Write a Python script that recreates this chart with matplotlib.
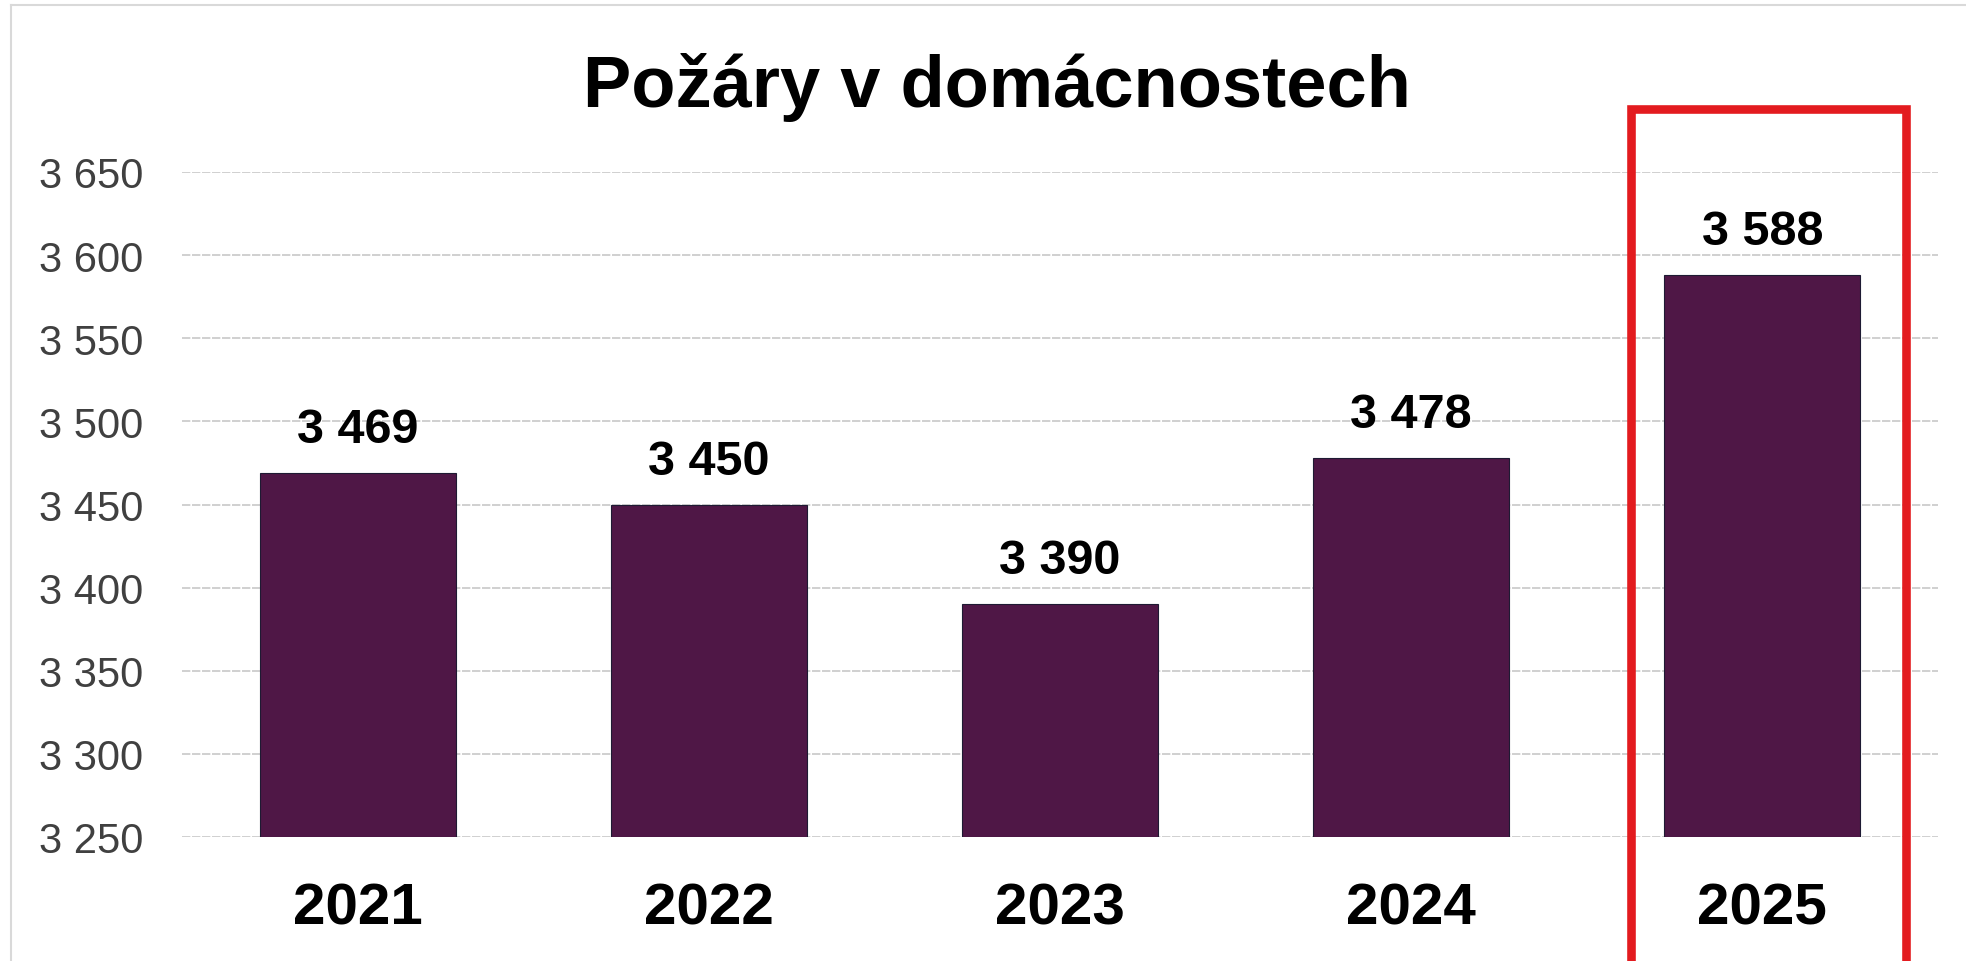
import matplotlib.pyplot as plt
from matplotlib.patches import Rectangle
from matplotlib.lines import Line2D

plt.rcParams['font.family'] = ['Liberation Sans', 'DejaVu Sans']

# data
years = ['2021', '2022', '2023', '2024', '2025']
fires = [3469, 3450, 3390, 3478, 3588]
y_ticks = [3250, 3300, 3350, 3400, 3450, 3500, 3550, 3600, 3650]


def fmt(v):
    # Czech style thousands separator (space)
    return f"{v:,}".replace(",", " ")


W, H = 1966, 962
fig = plt.figure(figsize=(W / 100, H / 100), dpi=100)
ax = fig.add_axes([182 / W, 1 - 838 / H, (1938 - 182) / W, (838 - 173) / H])

x = range(len(years))
bars = ax.bar(x, [v - 3250 for v in fires], bottom=3250, width=0.558,
              color='#4f1746', edgecolor='#1e1a33', linewidth=0.8, zorder=3)

for b, v in zip(bars, fires):
    ax.annotate(fmt(v), (b.get_x() + b.get_width() / 2, v),
                xytext=(0, 15), textcoords='offset points',
                ha='center', va='bottom', fontsize=35, fontweight='bold',
                color='black')

ax.set_xlim(-0.5, 4.5)
ax.set_ylim(3250, 3650)
ax.set_yticks(y_ticks)
ax.set_yticklabels([fmt(t) for t in y_ticks], fontsize=30, color='#404040')
ax.set_xticks(list(x))
ax.set_xticklabels(years, fontsize=42, fontweight='bold', color='black')
ax.tick_params(axis='y', length=0, pad=28)
ax.tick_params(axis='x', length=0, pad=32)
ax.grid(axis='y', color='#c8c8c8', linewidth=1.2, linestyle=(0, (5, 1)), zorder=0)
for s in ax.spines.values():
    s.set_visible(False)

fig.text(997 / W, 1 - 88 / H, 'Požáry v domácnostech', ha='center', va='center',
         fontsize=52, fontweight='bold', color='black')

# outer light frame
fig.add_artist(Line2D([11 / W, 11 / W], [0, 1 - 6 / H], color='#d9d9d9', linewidth=1.5))
fig.add_artist(Line2D([11 / W, 1], [1 - 6 / H, 1 - 6 / H], color='#d9d9d9', linewidth=1.5))

# red highlight box around 2025
fig.add_artist(Rectangle((1631 / W, -0.05), (1906 - 1631) / W, 1.05 - 110 / H,
                         transform=fig.transFigure, fill=False,
                         edgecolor='#e31b1f', linewidth=6.2))

fig.savefig('out.png', dpi=100)
